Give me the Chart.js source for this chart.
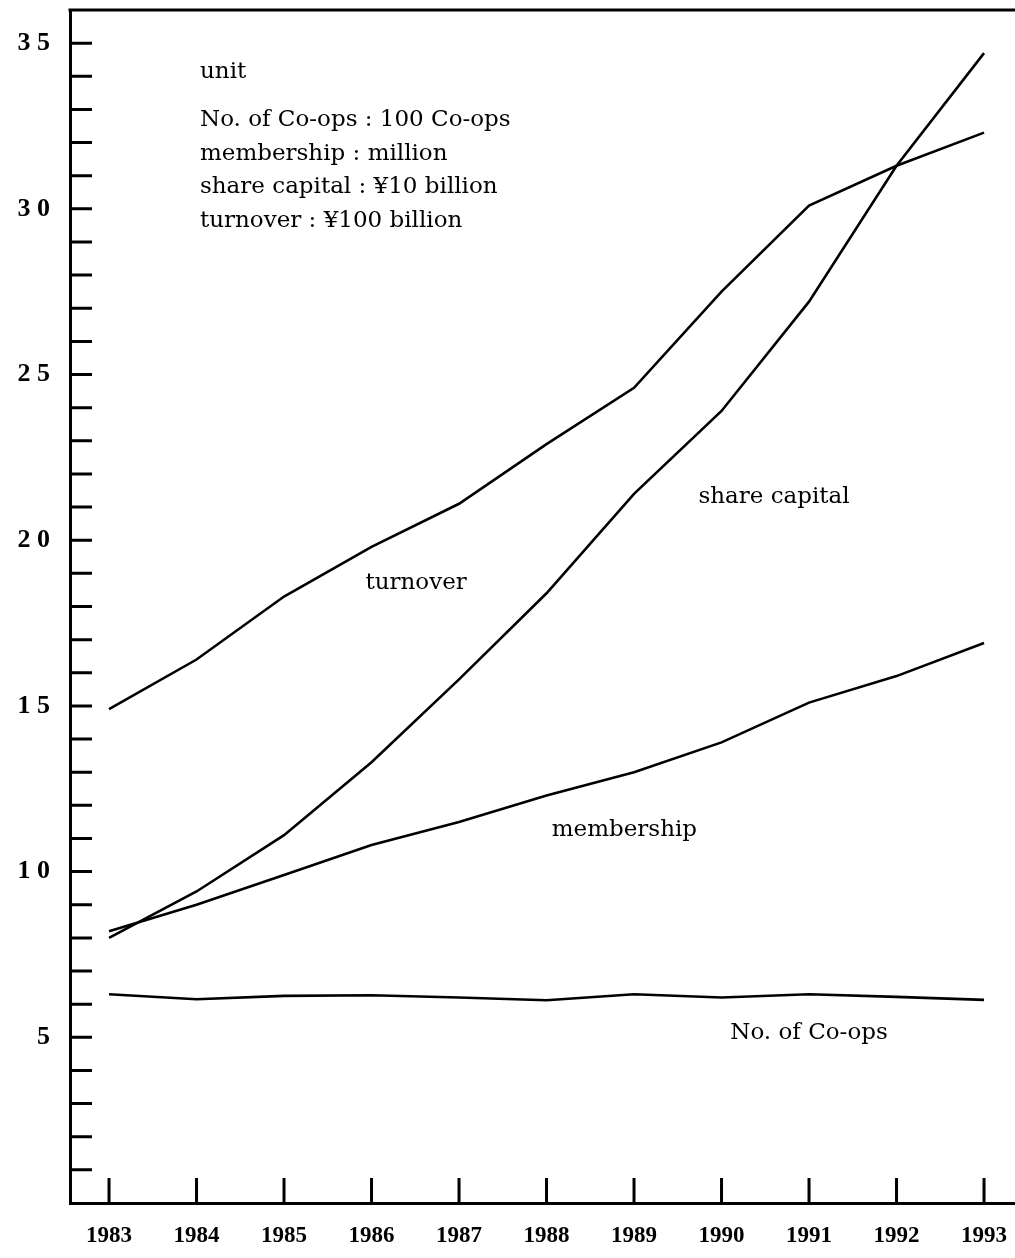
<!DOCTYPE html>
<html>
<head>
<meta charset="utf-8">
<script src="https://cdn.jsdelivr.net/npm/chart.js@4.4.1/dist/chart.umd.min.js"></script>
<style>
    body { margin: 0; background: #fff; }
    #chartContainer { width: 1015px; height: 1258px; position: relative; }
</style>
</head>
<body>
<div id="chartContainer"><canvas id="myChart"></canvas></div>
<script>
const years = [1983, 1984, 1985, 1986, 1987, 1988, 1989, 1990, 1991, 1992, 1993];
const coops = [6.3, 6.15, 6.25, 6.27, 6.2, 6.12, 6.3, 6.2, 6.3, 6.22, 6.13];
const membership = [8.2, 9.0, 9.9, 10.8, 11.5, 12.3, 13.0, 13.9, 15.1, 15.9, 16.9];
const shareCapital = [8.0, 9.4, 11.1, 13.3, 15.8, 18.4, 21.4, 23.9, 27.2, 31.3, 34.7];
const turnover = [14.9, 16.4, 18.3, 19.8, 21.1, 22.9, 24.6, 27.5, 30.1, 31.3, 32.3];

const seriesNames = ["No. of Co-ops", "membership", "share capital", "turnover"];
const unitTitle = "unit";
const unitLines = [
    "No. of Co-ops : 100 Co-ops",
    "membership : million",
    "share capital : ¥10 billion",
    "turnover : ¥100 billion",
];

const textFont = '23px "DejaVu Serif"';

const toPoints = (vals) => years.map((y, i) => ({ x: y, y: vals[i] }));

const makeSet = (label, vals) => ({
    label: label,
    data: toPoints(vals),
    borderColor: "#000",
    borderWidth: 2.6,
    pointRadius: 0,
    tension: 0,
    fill: false,
});

// inward tick marks, top frame and text labels
const decorations = {
    id: "decorations",
    afterDraw(chart) {
        const ctx = chart.ctx;
        const area = chart.chartArea;
        const xs = chart.scales.x;
        const ys = chart.scales.y;
        ctx.save();
        ctx.strokeStyle = "#000";
        ctx.lineWidth = 3;
        ctx.beginPath();
        ctx.moveTo(area.left - 1.5, area.top);
        ctx.lineTo(area.right, area.top);
        for (let v = 1; v <= 35; v++) {
            const py = ys.getPixelForValue(v);
            ctx.moveTo(area.left, py);
            ctx.lineTo(area.left + 22, py);
        }
        years.forEach((yr) => {
            const px = xs.getPixelForValue(yr);
            ctx.moveTo(px, area.bottom);
            ctx.lineTo(px, area.bottom - 25);
        });
        ctx.stroke();

        ctx.fillStyle = "#000";
        ctx.font = textFont;
        ctx.textBaseline = "middle";
        ctx.textAlign = "left";
        ctx.fillText(unitTitle, area.left + 130, 72);
        unitLines.forEach((t, i) => {
            ctx.fillText(t, area.left + 130, 120 + i * 33.7);
        });

        ctx.textAlign = "center";
        const labelPos = [
            [1991.0, 5.13],
            [1988.89, 11.25],
            [1990.6, 21.3],
            [1986.51, 18.7],
        ];
        seriesNames.forEach((name, i) => {
            ctx.fillText(name, xs.getPixelForValue(labelPos[i][0]), ys.getPixelForValue(labelPos[i][1]));
        });
        ctx.restore();
    },
};

const ctx = document.getElementById("myChart");
const myChart = new Chart(ctx, {
    type: "line",
    data: {
        datasets: [
            makeSet(seriesNames[0], coops),
            makeSet(seriesNames[1], membership),
            makeSet(seriesNames[2], shareCapital),
            makeSet(seriesNames[3], turnover),
        ],
    },
    options: {
        responsive: true,
        maintainAspectRatio: false,
        animation: false,
        layout: { padding: { top: 10, right: 0, left: 0, bottom: 0 } },
        plugins: {
            legend: { display: false },
            tooltip: { enabled: false },
        },
        scales: {
            x: {
                type: "linear",
                min: 1982.554,
                max: 1993.354,
                afterFit: (scale) => {
                    scale.height = 55;
                    scale.paddingLeft = 0;
                    scale.paddingRight = 0;
                },
                grid: { display: false, drawTicks: false },
                border: { display: true, color: "#000", width: 3 },
                afterBuildTicks: (scale) => {
                    scale.ticks = years.map((y) => ({ value: y }));
                },
                ticks: {
                    padding: 19,
                    color: "#000",
                    font: { family: "Liberation Serif", size: 23, weight: "bold" },
                    maxRotation: 0,
                    autoSkip: false,
                    callback: (v) => String(v),
                },
            },
            y: {
                min: 0,
                max: 36,
                afterFit: (scale) => {
                    scale.width = 70;
                    scale.paddingTop = 0;
                    scale.paddingBottom = 0;
                },
                grid: { display: false, drawTicks: false },
                border: { display: true, color: "#000", width: 3 },
                afterBuildTicks: (scale) => {
                    scale.ticks = [5, 10, 15, 20, 25, 30, 35].map((v) => ({ value: v }));
                },
                ticks: {
                    padding: 20,
                    color: "#000",
                    font: { family: "Liberation Serif", size: 26, weight: "bold" },
                    callback: (v) => String(v).split("").join(" "),
                },
            },
        },
    },
    plugins: [decorations],
});
</script>
</body>
</html>
